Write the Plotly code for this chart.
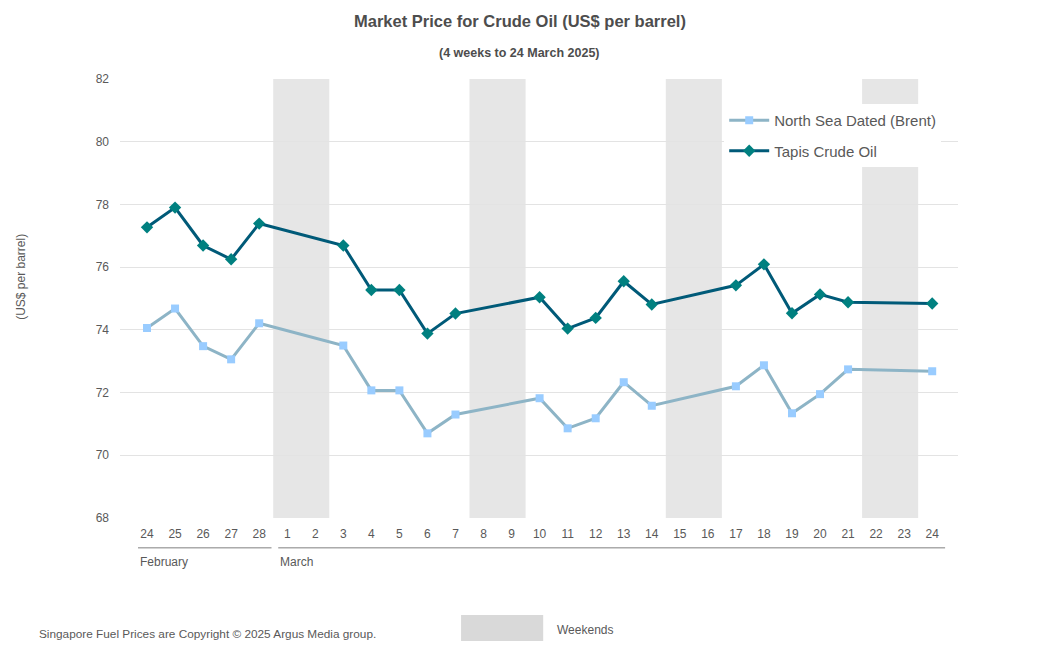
import plotly.graph_objects as go

# ---- data ----
day_labels = ["24", "25", "26", "27", "28", "1", "2", "3", "4", "5", "6", "7", "8", "9",
              "10", "11", "12", "13", "14", "15", "16", "17", "18", "19", "20", "21", "22", "23", "24"]
weekend_idx = [5, 6, 12, 13, 19, 20, 26, 27]
brent = [74.06, 74.68, 73.48, 73.06, 74.21, None, None, 73.50, 72.07, 72.07, 70.70, 71.30, None, None,
         71.82, 70.86, 71.18, 72.33, 71.58, None, None, 72.20, 72.87, 71.34, 71.95, 72.74, None, None, 72.68]
tapis = [77.27, 77.90, 76.69, 76.25, 77.39, None, None, 76.69, 75.27, 75.27, 73.88, 74.52, None, None,
         75.04, 74.04, 74.38, 75.55, 74.81, None, None, 75.42, 76.09, 74.53, 75.13, 74.88, None, None, 74.84]
months = [("February", 0, 4), ("March", 5, 28)]
y_ticks = [68, 70, 72, 74, 76, 78, 80, 82]

x = list(range(len(day_labels)))
FONT = "Liberation Sans, Arial, sans-serif"
GREY = "#595959"

fig = go.Figure()
fig.add_trace(go.Scatter(
    x=x, y=brent, name="North Sea Dated (Brent)", mode="lines+markers", connectgaps=True,
    line=dict(color="#8db4c6", width=3),
    marker=dict(symbol="square", size=8, color="#99ccff"),
    legendgroup="a"))
fig.add_trace(go.Scatter(
    x=x, y=tapis, name="Tapis Crude Oil", mode="lines+markers", connectgaps=True,
    line=dict(color="#005a78", width=3),
    marker=dict(symbol="diamond", size=9.5, color="#008080"),
    legendgroup="b"))

shapes = []
for i in range(0, len(weekend_idx), 2):
    a, b = weekend_idx[i], weekend_idx[i + 1]
    shapes.append(dict(type="rect", xref="x", yref="paper", x0=a - 0.5, x1=b + 0.5, y0=0, y1=1,
                       fillcolor="#e6e6e6", line=dict(width=0), layer="between"))

annotations = []
for name, a, b in months:
    shapes.append(dict(type="line", xref="x", yref="paper", x0=a - 0.32, x1=b + (0.44 if b < 28 else 0.46),
                       y0=-0.068, y1=-0.068, line=dict(color="#7f7f7f", width=1)))
    annotations.append(dict(text=name, xref="x", yref="paper", x=a - 0.32, y=-0.101, xanchor="left",
                            yanchor="middle", showarrow=False, font=dict(family=FONT, size=12, color=GREY)))

shapes.append(dict(type="rect", xref="paper", yref="paper", x0=0.407, x1=0.505, y0=-0.280, y1=-0.221,
                   fillcolor="#d9d9d9", line=dict(width=0)))
annotations.append(dict(text="Weekends", xref="paper", yref="paper", x=0.519, y=-0.254, xanchor="left",
                        yanchor="middle", showarrow=False, font=dict(family=FONT, size=12, color=GREY)))
annotations.append(dict(text="Singapore Fuel Prices are Copyright © 2025 Argus Media group.", xref="paper",
                        yref="paper", x=-0.099, y=-0.264, xanchor="left", yanchor="middle", showarrow=False,
                        font=dict(family=FONT, size=11.8, color=GREY)))
annotations.append(dict(text="<b>Market Price for Crude Oil (US$ per barrel)</b>", xref="paper", yref="paper",
                        x=0.477, y=1.132, xanchor="center", yanchor="middle", showarrow=False,
                        font=dict(family=FONT, size=16.5, color="#4d4d4d")))
annotations.append(dict(text="<b>(4 weeks to 24 March 2025)</b>", xref="paper", yref="paper",
                        x=0.477, y=1.059, xanchor="center", yanchor="middle", showarrow=False,
                        font=dict(family=FONT, size=12.5, color="#4d4d4d")))
annotations.append(dict(text="(US$ per barrel)", xref="paper", yref="paper", x=-0.119, y=0.55,
                        textangle=-90, xanchor="center", yanchor="middle", showarrow=False,
                        font=dict(family=FONT, size=12, color=GREY)))

fig.update_layout(
    width=1036, height=654,
    margin=dict(l=112, r=86, t=71, b=144),
    paper_bgcolor="white", plot_bgcolor="white",
    showlegend=True,
    legend=dict(x=0.721, y=0.943, xanchor="left", yanchor="top", bgcolor="white",
                font=dict(family=FONT, size=15, color=GREY), tracegroupgap=8, itemwidth=40),
    shapes=shapes, annotations=annotations,
    xaxis=dict(range=[-0.963, 28.92], tickmode="array", tickvals=x, ticktext=day_labels,
               showgrid=False, zeroline=False, showline=False, ticks="",
               tickfont=dict(family=FONT, size=12, color=GREY), ticklabelstandoff=7),
    yaxis=dict(range=[68, 82], tickmode="array", tickvals=y_ticks, showgrid=True,
               gridcolor="#e3e3e3", gridwidth=1, zeroline=False, showline=False, ticks="",
               tickfont=dict(family=FONT, size=12, color=GREY), ticklabelstandoff=10),
)

fig.write_html("out.html")
